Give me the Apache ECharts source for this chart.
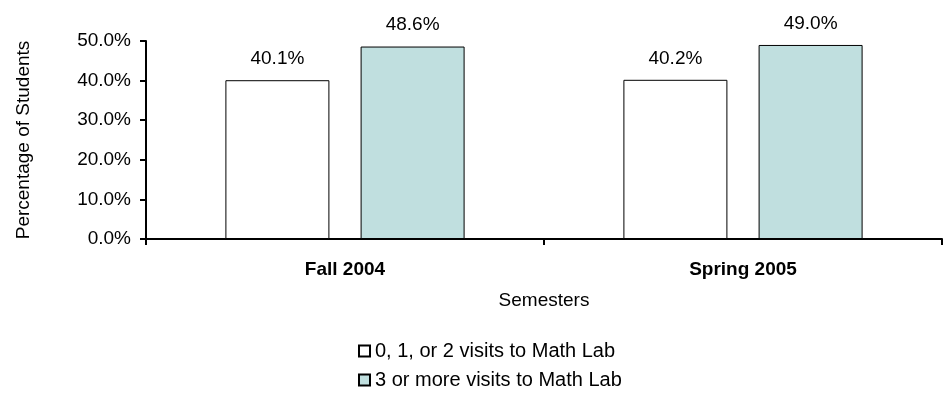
<!DOCTYPE html>
<html>
<head>
<meta charset="utf-8">
<script src="https://cdn.jsdelivr.net/npm/echarts@6/dist/echarts.min.js"></script>
<style>
  html, body { margin: 0; padding: 0; background: #fff; }
  #chart { width: 943px; height: 402px; }
</style>
</head>
<body>
<div id="chart"></div>
<script>
// values
const semesters = ['Fall 2004', 'Spring 2005']
const fewVisits = [40.1, 40.2]
const manyVisits = [48.6, 49.0]
const seriesNames = ['0, 1, or 2 visits to Math Lab', '3 or more visits to Math Lab']

const font = 'Liberation Sans, Arial, sans-serif'
const barStyle = color => ({ color, borderColor: '#000', borderWidth: 1 })
const label = {
    show: true,
    position: 'top',
    distance: 12,
    color: '#000',
    fontFamily: font,
    fontSize: 19,
    formatter: p => p.value.toFixed(1) + '%'
}

const chart = echarts.init(document.getElementById('chart'))
chart.setOption({
    animation: false,
    backgroundColor: '#fff',
    grid: { left: 146, right: 1, top: 41, bottom: 163 },
    legend: {
        orient: 'vertical',
        left: 353,
        top: 336,
        itemWidth: 11,
        itemHeight: 11,
        itemGap: 9,
        icon: 'rect',
        textStyle: { fontFamily: font, fontSize: 20, color: '#000' },
        data: seriesNames
    },
    xAxis: {
        type: 'category',
        data: semesters,
        name: 'Semesters',
        nameLocation: 'middle',
        nameGap: 52,
        nameTextStyle: { fontFamily: font, fontSize: 19, color: '#000' },
        axisLine: { lineStyle: { color: '#000', width: 2 } },
        axisTick: { show: true, length: 6, lineStyle: { color: '#000', width: 2 } },
        axisLabel: { fontFamily: font, fontSize: 19, fontWeight: 'bold', color: '#000', margin: 21 }
    },
    yAxis: {
        type: 'value',
        min: 0,
        max: 50,
        interval: 10,
        name: 'Percentage of Students',
        nameLocation: 'middle',
        nameGap: 113,
        nameTextStyle: { fontFamily: font, fontSize: 19, color: '#000' },
        splitLine: { show: false },
        axisLine: { show: true, lineStyle: { color: '#000', width: 2 } },
        axisTick: { show: true, length: 6, lineStyle: { color: '#000', width: 2 } },
        axisLabel: { fontFamily: font, fontSize: 19, color: '#000', margin: 15, formatter: v => v.toFixed(1) + '%' }
    },
    series: [
        {
            name: seriesNames[0],
            type: 'bar',
            data: fewVisits,
            barWidth: 104,
            barGap: '30%',
            itemStyle: barStyle('#fff'),
            label
        },
        {
            name: seriesNames[1],
            type: 'bar',
            data: manyVisits,
            barWidth: 104,
            itemStyle: barStyle('#c0dfdf'),
            label
        }
    ]
})
</script>
</body>
</html>
